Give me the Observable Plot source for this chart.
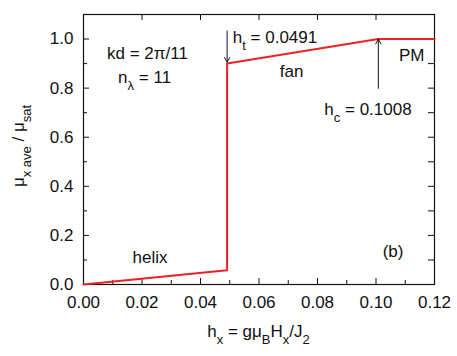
<!DOCTYPE html>
<html><head><meta charset="utf-8">
<script src="https://cdn.jsdelivr.net/npm/d3@7"></script>
<script src="https://cdn.jsdelivr.net/npm/@observablehq/plot@0.6"></script>
<style>body{margin:0;background:#fff}</style>
</head><body><div id="chart"></div>
<script>
// Data
const hx = [0, 0.0491, 0.0491, 0.1008, 0.12];
const muRatio = [0, 0.058, 0.90, 1.0, 1.0];
const xMajor = [0, 0.02, 0.04, 0.06, 0.08, 0.10, 0.12];
const xMinor = [0.01, 0.03, 0.05, 0.07, 0.09, 0.11];
const yMajor = [0, 0.2, 0.4, 0.6, 0.8, 1.0];
const yMinor = [0.1, 0.3, 0.5, 0.7, 0.9];
const yRight = [0.1, 0.2, 0.3, 0.4, 0.5, 0.6, 0.7, 0.8, 0.9, 1.0];
const arrowX = [0.0491, 0.1008];
const arrowFrom = [1.033, 0.799];
const arrowTo = [0.906, 0.999];

const W = 457, H = 356, mL = 83, mR = 23, mT = 14, mB = 72;
const iw = W - mL - mR, ih = H - mT - mB;
const red = "#ee2024";
const font = "'Liberation Sans', Arial, sans-serif";

const line = hx.map((x, i) => ({x, y: muRatio[i]}));
const arrows = arrowX.map((x, i) => ({x, y1: arrowFrom[i], y2: arrowTo[i]}));

const chart = Plot.plot({
  width: W, height: H,
  marginLeft: mL, marginRight: mR, marginTop: mT, marginBottom: mB,
  style: {fontFamily: font, fontSize: "17px", color: "#111", background: "#fff"},
  x: {domain: [0, 0.12]},
  y: {domain: [0, 1.1]},
  marks: [
    Plot.ruleX(xMajor, {insetTop: ih - 6, stroke: "#111"}),
    Plot.ruleX(xMinor, {insetTop: ih - 4, stroke: "#111"}),
    Plot.ruleX(xMajor, {insetBottom: ih - 6, stroke: "#111"}),
    Plot.ruleY(yMajor, {insetRight: iw - 6, stroke: "#111"}),
    Plot.ruleY(yMinor, {insetRight: iw - 4, stroke: "#111"}),
    Plot.ruleY(yRight, {insetLeft: iw - 6, stroke: "#111"}),
    Plot.frame({stroke: "#111", strokeWidth: 1.2}),
    Plot.axisX(xMajor, {tickSize: 0, tickPadding: 11, tickFormat: d3.format(".2f"), fontSize: 17, label: null}),
    Plot.axisY(yMajor, {tickSize: 0, tickPadding: 10, tickFormat: d3.format(".1f"), fontSize: 17, label: null}),
    Plot.line(line, {x: "x", y: "y", stroke: red, strokeWidth: 2}),
    Plot.arrow(arrows, {x: "x", y1: "y1", y2: "y2", stroke: "#111", strokeWidth: 1, headLength: 8})
  ]
});
document.getElementById("chart").append(chart);

const sx = chart.scale("x"), sy = chart.scale("y");
const svg = d3.select(chart);

function rich(x, y, parts, anchor = "start", size = 17, subSize = 13, rotate = false) {
  const t = svg.append("text")
    .attr("font-family", font).attr("font-size", size).attr("fill", "#111")
    .attr("text-anchor", anchor);
  if (rotate) t.attr("transform", `translate(${x},${y}) rotate(-90)`);
  else t.attr("x", x).attr("y", y);
  parts.forEach(([s, sub]) => {
    const ts = t.append("tspan").text(s);
    if (sub) ts.attr("font-size", subSize).attr("dy", 7);
    else if (t.node().childNodes.length > 1 && parts[parts.indexOf([s, sub])]) {}
  });
  // reset baseline after subscripts
  let prevSub = false;
  t.selectAll("tspan").each(function(d, i) {
    const sub = parts[i][1];
    if (sub) d3.select(this).attr("dy", 7);
    else if (prevSub) d3.select(this).attr("dy", -7);
    prevSub = sub;
  });
  return t;
}
const X = v => sx.apply(v), Y = v => sy.apply(v);

rich(X(0.0082), Y(0.917), [["kd = 2π/11", false]]);
rich(X(0.0120), Y(0.819), [["n", false], ["λ", true], [" = 11", false]]);
rich(X(0.0512), Y(0.982), [["h", false], ["t", true], [" = 0.0491", false]]);
rich(X(0.0713), Y(0.842), [["fan", false]], "middle");
rich(X(0.1080), Y(0.907), [["PM", false]]);
rich(X(0.0825), Y(0.690), [["h", false], ["c", true], [" = 0.1008", false]]);
rich(X(0.0229), Y(0.0845), [["helix", false]], "middle");
rich(X(0.1060), Y(0.109), [["(b)", false]], "middle");

// axis titles
rich(mL + iw / 2, 337, [["h", false], ["x", true], [" = gμ", false], ["B", true], ["H", false], ["x", true], ["/J", false], ["2", true]], "middle");
rich(24, 146, [["μ", false], ["x ave", true], [" / μ", false], ["sat", true]], "middle", 17, 13, true);
</script>
</body></html>
